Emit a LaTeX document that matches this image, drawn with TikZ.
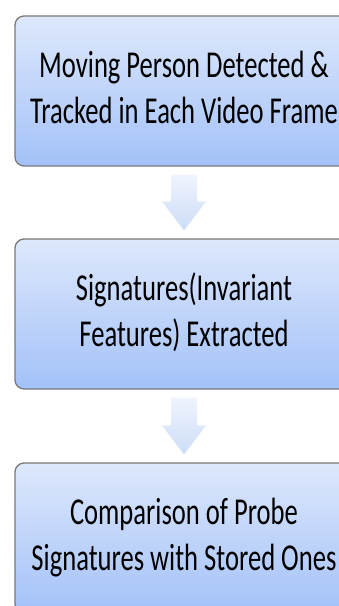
\documentclass[tikz,border=0pt]{standalone}
\usepackage{fontspec}
\setmainfont{Carlito}
\usetikzlibrary{calc}
\definecolor{boxtop}{RGB}{221,232,252}
\definecolor{boxbottom}{RGB}{163,193,248}
\definecolor{arrowtop}{RGB}{239,244,253}
\definecolor{arrowbottom}{RGB}{205,220,248}
\tikzset{
  stepbox/.style={draw=gray!95!black, line width=1.3pt, rounded corners=9pt,
    top color=boxtop, bottom color=boxbottom,
    minimum width=338pt, minimum height=150pt, inner sep=0pt,
    font=\fontsize{38}{46}\selectfont},
  flowarrow/.style={top color=arrowtop, bottom color=arrowbottom, draw=none}
}
\newcommand{\boxtext}[1]{\raisebox{4pt}{\scalebox{0.70}[1]{\begin{tabular}{@{}c@{}}#1\end{tabular}}}}
\begin{document}
\begin{tikzpicture}[x=1pt, y=-1pt]
  \useasboundingbox (0,0) rectangle (339,606);
  \clip (0,0) rectangle (339,606);
  \fill[white] (0,0) rectangle (339,606);

  \node[stepbox] (b1) at (184,91) {\boxtext{Moving Person Detected \&\\Tracked in Each Video Frame}};
  \node[stepbox] (b2) at (184,314) {\boxtext{Signatures(Invariant\\Features) Extracted}};
  \node[stepbox] (b3) at (184,538) {\boxtext{Comparison of Probe\\Signatures with Stored Ones}};

  % block arrows between the steps
  \foreach \a/\b in {b1/b2, b2/b3} {
    \coordinate (s) at ($(\a.south)+(0,8)$);
    \coordinate (t) at ($(\b.north)+(0,-8)$);
    \path[flowarrow] ($(s)+(-13,0)$) -- ($(s)+(13,0)$) -- ($(t)+(13,-29)$)
      -- ($(t)+(22,-29)$) -- (t) -- ($(t)+(-22,-29)$) -- ($(t)+(-13,-29)$) -- cycle;
  }
\end{tikzpicture}
\end{document}
